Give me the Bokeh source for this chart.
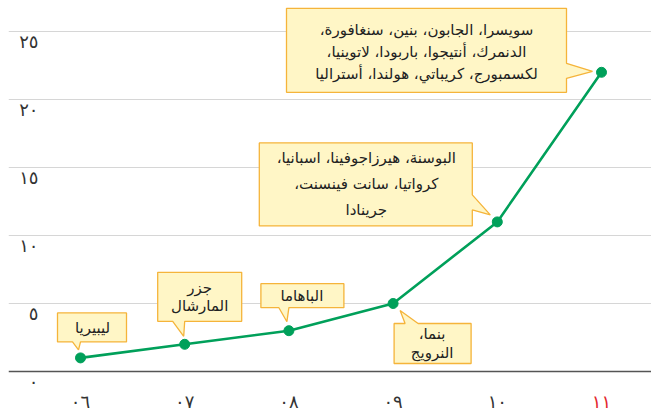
from bokeh.plotting import figure
from bokeh.models import Range1d, Grid, FixedTicker, Span, ColumnDataSource
from bokeh.core.properties import value
from bokeh.embed import file_html
from bokeh.resources import INLINE

# ---------------- data ----------------
years = ["٠٦", "٠٧", "٠٨", "٠٩", "١٠", "١١"]
counts = [1, 2, 3, 5, 11, 22]
y_ticks = [0, 5, 10, 15, 20, 25]
y_tick_labels = ["٠", "٥", "١٠", "١٥", "٢٠", "٢٥"]
callout_texts = [
    ["ليبيريا"],
    ["جزر", "المارشال"],
    ["الباهاما"],
    ["بنما،", "النرويج"],
    ["البوسنة، هيرزاجوفينا، اسبانيا،", "كرواتيا، سانت فينسنت،", "جرينادا"],
    ["سويسرا، الجابون، بنين، سنغافورة،",
     "الدنمرك، أنتيجوا، باربودا، لاتوينيا،",
     "لكسمبورج، كريباتي، هولندا، أستراليا"],
]

# ---------------- layout / style ----------------
W, H = 651, 414
LEFT = 8
FW, FH = W - LEFT, H
XS = 104.2      # px per category
X0 = 72         # px from frame left to first category
YS = 13.6       # px per unit
ZERO = 371      # px from top to zero line
RLM = "\u200f"

FONT = "DejaVu Sans"
GREEN = "#00a05a"
FILL = "#fff6c6"
EDGE = "#f5b43a"
TXT = "#222222"

# callout geometry in px relative to its point: box (L,T,R,B), pointer side, base (a,b), tip, text centre, line spacing
geo = [
    dict(box=(-23, -45, 46, -16), side="bottom", base=(-8, 0), tip=(-2, -8), c=(12, -30), sp=18),
    dict(box=(-27, -72, 57, -23), side="bottom", base=(-12, 0), tip=(-1, -8), c=(15, -47), sp=18),
    dict(box=(-28, -47, 55, -23), side="bottom", base=(-10, 0), tip=(-2, -9), c=(13, -35), sp=18),
    dict(box=(1, 20, 78, 60), side="top", base=(12, 25), tip=(7, 7), c=(39, 40), sp=19),
    dict(box=(-238, -79, -25, 4), side="right", base=(-27, -12), tip=(-7, -7), c=(-131, -38), sp=26),
    dict(box=(-315, -64, -35, 20), side="right", base=(-9, 6), tip=(-9, -1), c=(-175, -20), sp=22),
]

xs_idx = list(range(len(years)))

p = figure(width=W, height=H, output_backend="svg", toolbar_location=None,
           x_axis_location=None, y_axis_location=None,
           min_border_left=LEFT, min_border_right=0, min_border_top=0, min_border_bottom=0,
           outline_line_color=None, background_fill_color="white", border_fill_color="white")
for g in p.grid:
    g.visible = False
x_start = -X0 / XS
p.x_range = Range1d(x_start, x_start + FW / XS)
y_end = ZERO / YS
p.y_range = Range1d(y_end - FH / YS, y_end)

p.add_layout(Grid(dimension=1, ticker=FixedTicker(ticks=y_ticks[1:]),
                  grid_line_color="#d6d6d6", grid_line_width=1))
p.add_layout(Span(location=0, dimension="width", line_color="#555555", line_width=1.6))

# callout boxes
pxs, pys = [], []
for i, g in enumerate(geo):
    L, T, R, B = g["box"]
    a, b = g["base"]
    tip = g["tip"]
    if g["side"] == "bottom":
        pts = [(L, T), (R, T), (R, B), (b, B), tip, (a, B), (L, B)]
    elif g["side"] == "top":
        pts = [(L, T), (a, T), tip, (b, T), (R, T), (R, B), (L, B)]
    else:
        pts = [(L, T), (R, T), (R, a), tip, (R, b), (R, B), (L, B)]
    pxs.append([xs_idx[i] + dx / XS for dx, dy in pts])
    pys.append([counts[i] - dy / YS for dx, dy in pts])
p.patches(pxs, pys, fill_color=FILL, line_color=EDGE, line_width=1.3)

# line + points
p.line(xs_idx, counts, line_color=GREEN, line_width=2.6)
p.scatter(xs_idx, counts, size=10, fill_color=GREEN, line_color=GREEN)

# callout text
tx, ty, tt, txo, tyo = [], [], [], [], []
for i, (g, lines) in enumerate(zip(geo, callout_texts)):
    n = len(lines)
    for k, s in enumerate(lines):
        tx.append(xs_idx[i]); ty.append(counts[i]); tt.append(RLM + s + RLM)
        txo.append(g["c"][0]); tyo.append(g["c"][1] + (k - (n - 1) / 2) * g["sp"])
p.text(x="x", y="y", text="t", x_offset="xo", y_offset="yo",
       source=ColumnDataSource(dict(x=tx, y=ty, t=tt, xo=txo, yo=tyo)),
       text_font=value(FONT), text_font_size="15px", text_color=TXT,
       text_align="center", text_baseline="middle")

# x tick labels
p.text(x=xs_idx, y=[0] * len(years), text=years, y_offset=30,
       text_color=["#333333"] * 5 + ["#e3262d"],
       text_font=value(FONT), text_font_size="18px",
       text_align="center", text_baseline="middle")

# y tick labels (below their grid lines)
p.text(x=[x_start] * len(y_ticks), y=y_ticks, text=y_tick_labels, x_offset=30, y_offset=10,
       text_color="#333333", text_font=value(FONT), text_font_size="18px",
       text_align="right", text_baseline="middle")

open("out.html", "w").write(file_html(p, INLINE))
